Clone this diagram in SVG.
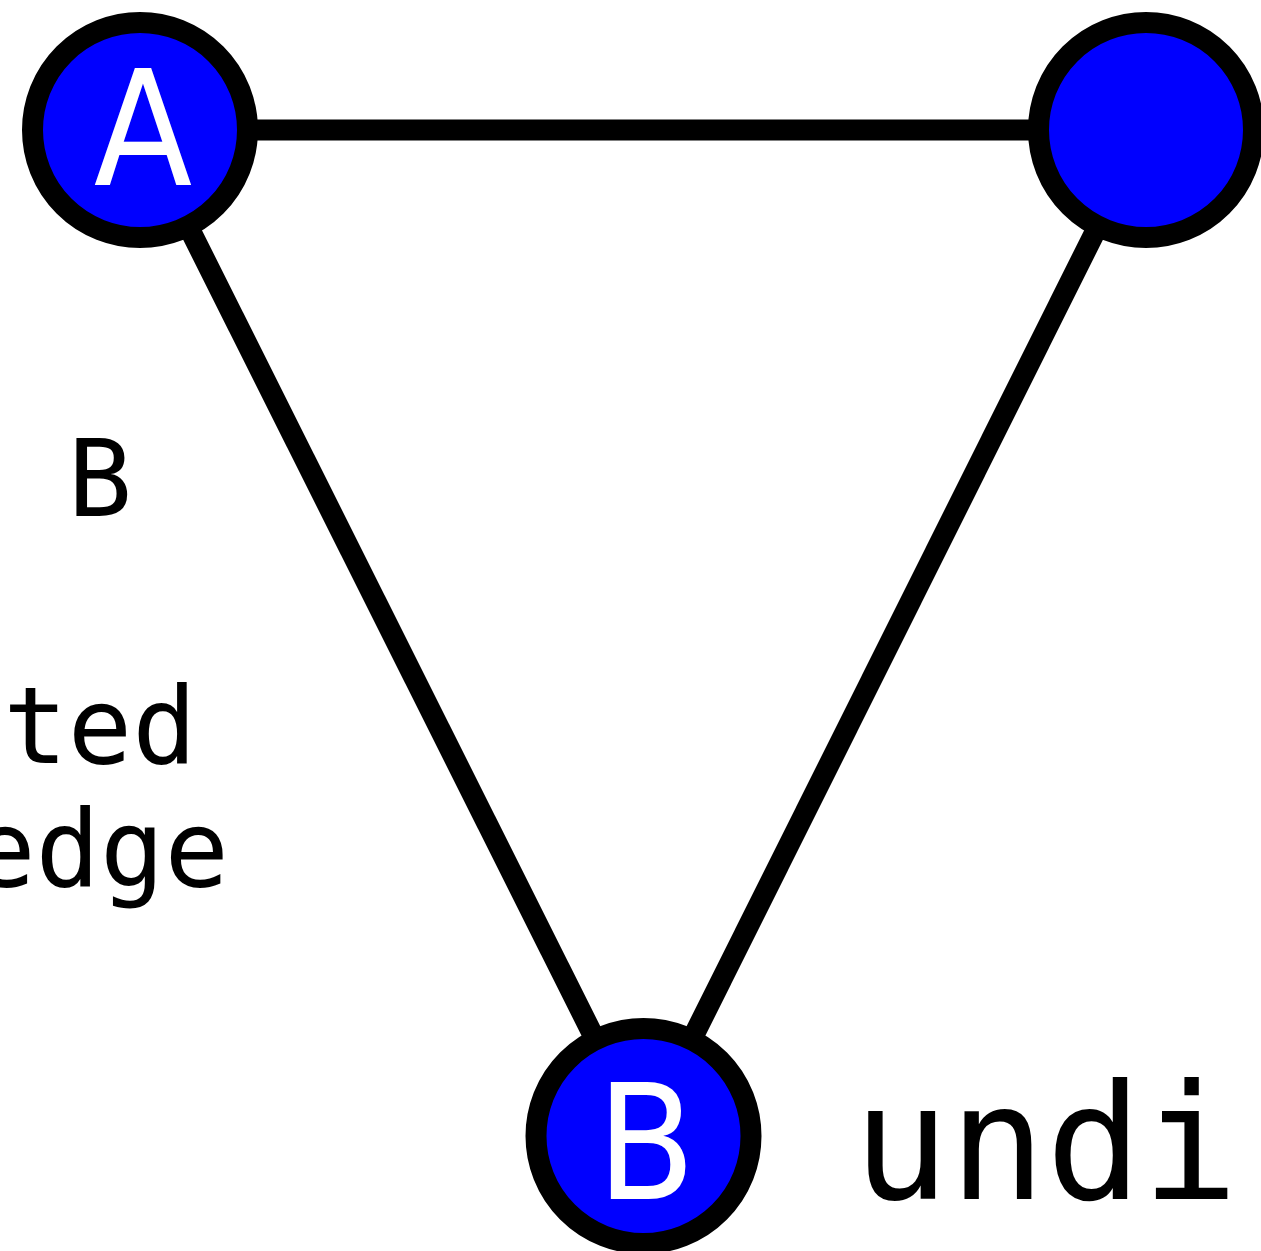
<svg xmlns="http://www.w3.org/2000/svg" width="1261" height="1251" viewBox="0 0 1261 1251">
<style>
.edge{stroke:#000;stroke-width:21;fill:none}
.node circle{fill:#0000ff;stroke:#000;stroke-width:21}
.nl{font-family:"DejaVu Sans Condensed","DejaVu Sans",sans-serif;font-stretch:condensed;font-size:160px;fill:#fff;text-anchor:middle}
.lab{font-family:"DejaVu Sans Mono",monospace;fill:#000}
</style>
<rect width="1261" height="1251" fill="#fff"/>
<g id="connectors">
<line class="edge" x1="140" y1="130" x2="1146" y2="130"/>
<line class="edge" x1="140" y1="130" x2="643.5" y2="1136"/>
<line class="edge" x1="1146" y1="130" x2="643.5" y2="1136"/>
</g>
<g id="nodeA" class="node"><circle cx="140" cy="130" r="107.5"/><text class="nl" x="143" y="185">A</text></g>
<g id="nodeC" class="node"><circle cx="1146" cy="130" r="107.5"/></g>
<g id="nodeB" class="node"><circle cx="643.5" cy="1136" r="107.5"/><text class="nl" x="646" y="1199">B</text></g>
<g id="labels">
<text class="lab" x="100" y="516" font-size="107" text-anchor="middle">B</text>
<text class="lab" x="100" y="763" font-size="107" text-anchor="middle">ted</text>
<text class="lab" x="100" y="886" font-size="107" text-anchor="middle">edge</text>
<text class="lab" x="853" y="1199" font-size="160">undi</text>
</g>
</svg>
